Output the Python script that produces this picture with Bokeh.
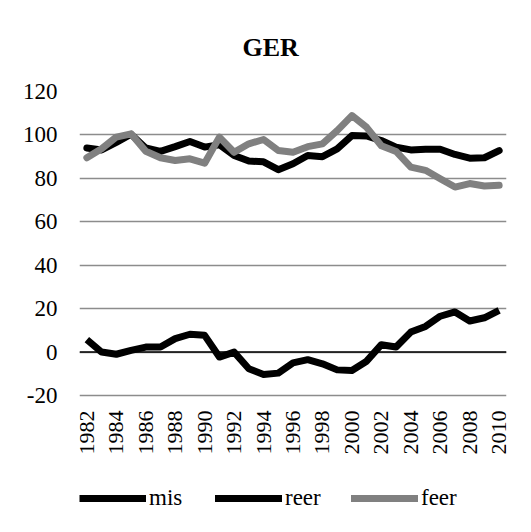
import math
from bokeh.plotting import figure
from bokeh.models import Range1d, FixedTicker, Span, Legend, LegendItem
from bokeh.core.properties import value
from bokeh.embed import file_html
from bokeh.resources import INLINE

years = list(range(1982, 2011))
mis = [5.7, 0.0, -1.0, 0.8, 2.3, 2.3, 6.2, 8.2, 7.7, -2.3, 0.0, -7.7, -10.3, -9.7,
       -5.0, -3.5, -5.4, -8.2, -8.5, -4.2, 3.4, 2.3, 9.2, 11.8, 16.5, 18.5, 14.3, 15.8, 19.2]
reer = [94.0, 93.1, 96.6, 100.3, 94.0, 92.4, 94.6, 97.0, 94.4, 95.5, 90.5, 88.0, 87.6, 84.0,
        86.7, 90.5, 90.0, 93.6, 99.7, 99.5, 97.4, 94.4, 93.1, 93.4, 93.4, 91.0, 89.3, 89.5, 92.8]
feer = [89.5, 93.6, 99.0, 100.5, 92.5, 89.5, 88.2, 89.0, 87.0, 99.0, 92.0, 95.9, 97.9, 92.8,
        92.0, 94.6, 95.9, 102.0, 108.9, 103.5, 95.0, 92.4, 85.2, 83.7, 79.8, 76.0, 77.6, 76.5, 76.8]

x_ticks = list(range(1982, 2011, 2))
x_tick_labels = [str(y) for y in x_ticks]
y_ticks = [-20, 0, 20, 40, 60, 80, 100, 120]
y_tick_labels = [str(v) for v in y_ticks]

FONT = "Liberation Serif"

# plot area: value axis from -20 to 120 spans 304 px; the frame continues below it
# down to the bottom of the canvas so that the year labels and legend fit inside it
PX_PER_UNIT = 304.0 / 140.0
y_min = -20 - 137.0 / PX_PER_UNIT
label_y = -20 - 15.0 / PX_PER_UNIT

p = figure(width=531, height=532, output_backend="svg", toolbar_location=None,
           x_range=Range1d(1981.5, 2010.5), y_range=Range1d(y_min, 120),
           min_border_left=79, min_border_right=25, min_border_top=91, min_border_bottom=0,
           title="GER")
p.outline_line_color = None
p.background_fill_color = "white"
p.border_fill_color = "white"

p.title.text_font = FONT
p.title.text_font_size = "26px"
p.title.text_font_style = "bold"
p.title.text_color = "black"
p.title.align = "left"
p.title.offset = 163
p.title.standoff = 60

p.xgrid.grid_line_color = None
p.ygrid.grid_line_color = "#8c8c8c"
p.ygrid.grid_line_width = 1.4
p.ygrid.ticker = FixedTicker(ticks=y_ticks)

p.yaxis.ticker = FixedTicker(ticks=y_ticks)
p.yaxis.major_label_overrides = dict(zip(y_ticks, y_tick_labels))
p.yaxis.axis_line_color = None
p.yaxis.major_tick_line_color = None
p.yaxis.minor_tick_line_color = None
p.yaxis.major_tick_out = 0
p.yaxis.major_label_standoff = 22
p.yaxis.major_label_text_font = FONT
p.yaxis.major_label_text_font_size = "23px"
p.yaxis.major_label_text_color = "black"

p.xaxis.visible = False

# category (year) labels, vertical, just below the -20 gridline
p.text(x=x_ticks, y=[label_y] * len(x_ticks), text=x_tick_labels, angle=math.pi / 2,
       text_align="right", text_baseline="middle", text_font=value(FONT),
       text_font_size="22px", text_color="black")

zero = Span(location=0, dimension="width", line_color="black", line_width=1.5, level="underlay")
p.add_layout(zero)

r_mis = p.line(years, mis, line_color="black", line_width=7, line_cap="butt", line_join="round")
r_reer = p.line(years, reer, line_color="black", line_width=7, line_cap="round", line_join="round")
r_feer = p.line(years, feer, line_color="#808080", line_width=7, line_cap="round", line_join="round")

legend = Legend(items=[LegendItem(label="mis", renderers=[r_mis]),
                       LegendItem(label="reer", renderers=[r_reer]),
                       LegendItem(label="feer", renderers=[r_feer])],
                orientation="horizontal", location=(0, 21),
                glyph_width=67, glyph_height=8, label_standoff=3, label_width=66, spacing=0,
                padding=0, margin=0, border_line_color=None, background_fill_alpha=0,
                label_text_font=FONT, label_text_font_size="23px", label_text_color="black")
p.add_layout(legend, "center")

open("out.html", "w").write(file_html(p, INLINE))
